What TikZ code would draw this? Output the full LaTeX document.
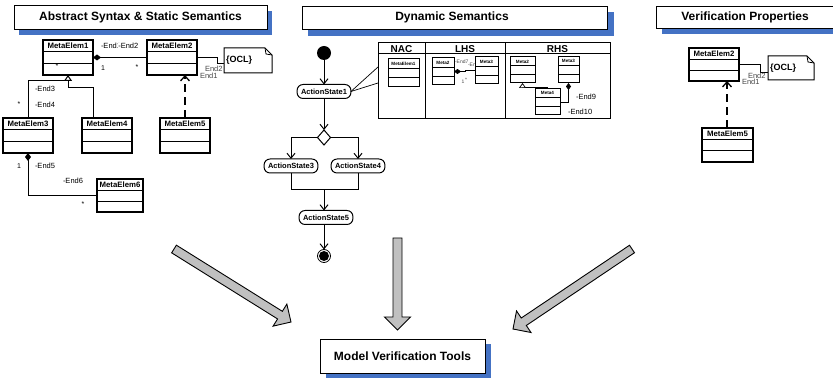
\documentclass[tikz,border=0pt]{standalone}
\usepackage{fontspec}
\setmainfont{Liberation Sans}
\usetikzlibrary{arrows.meta,calc,fit,shapes.geometric}

\definecolor{shade}{RGB}{68,114,196}
\definecolor{arrowgrey}{RGB}{192,192,192}
\definecolor{labelgrey}{RGB}{70,70,70}

\newcommand{\fs}[1]{\fontsize{#1}{#1}\selectfont}

\tikzset{
  every node/.style={inner sep=0pt, outer sep=0pt},
  titleframe/.style={draw, fill=white, line width=0.9pt},
  titletext/.style={font=\bfseries\fs{12}},
  shadowfill/.style={fill=shade, draw=none},
  clsframe/.style={draw, line width=1.2pt, fill=white},
  conn/.style={line width=1pt},
  thinconn/.style={line width=0.7pt},
  lbl/.style={font=\fs{7.5}, anchor=west},
  mult/.style={font=\fs{7}},
  tinylbl/.style={font=\fs{5}, text=labelgrey, anchor=west},
  action/.style={draw, line width=1pt, rounded corners=6pt, fill=white,
    font=\bfseries\fs{7.5}, inner xsep=4pt, minimum height=14pt},
  flow/.style={line width=1pt, -{Straight Barb[length=5pt,width=8pt,line width=1pt]}},
  realize/.style={line width=2.4pt, dash pattern=on 8pt off 5pt,
    -{Straight Barb[length=5pt,width=9pt,line width=1.3pt]}},
  bigarrow/.style={fill=arrowgrey, draw=black, line width=0.9pt, line join=miter},
}

% UML class box with a name row and two empty compartments
% #1 name, #2 left, #3 top, #4 right, #5 bottom, #6 title, #7 font size, #8 line width
\newcommand{\clsbox}[8]{%
  \pgfmathsetmacro{\cbA}{#3+0.34*(#5-#3)}%
  \pgfmathsetmacro{\cbB}{#3+0.67*(#5-#3)}%
  \node[clsframe, line width=#8, fit={(#2,#3) (#4,#5)}] (#1) {};
  \draw[line width=#8] (#2,\cbA) -- (#4,\cbA) (#2,\cbB) -- (#4,\cbB);
  \node[font=\bfseries\fs{#7}] (#1-name) at ({(#2+#4)/2},{(#3+\cbA)/2}) {#6};
}

% note with a folded corner
% #1 name, #2 left, #3 top, #4 right, #5 bottom, #6 text
\newcommand{\notebox}[6]{%
  \node[fit={(#2,#3) (#4,#5)}] (#1) {};
  \draw[line width=1pt, fill=white] (#1.north west) -- ($(#1.north east)+(-7,0)$)
    -- ($(#1.north east)+(0,7)$) -- (#1.south east) -- (#1.south west) -- cycle;
  \draw[line width=0.8pt] ($(#1.north east)+(-7,0)$) -- ($(#1.north east)+(-6,6)$)
    -- ($(#1.north east)+(0,7)$);
  \node[font=\bfseries\fs{9}, anchor=west] (#1-text) at ($(#1.west)+(2,0)$) {#6};
}

% wide hollow block arrow from #2 to #3
\newcommand{\fatarrow}[3]{%
  \coordinate (#1-b) at ($(#3)!13pt!(#2)$);
  \filldraw[bigarrow] ($(#2)!4.5pt!90:(#3)$) -- ($(#1-b)!4.5pt!90:(#3)$)
    -- ($(#1-b)!13pt!90:(#3)$) -- (#3) -- ($(#1-b)!13pt!-90:(#3)$)
    -- ($(#1-b)!4.5pt!-90:(#3)$) -- ($(#2)!4.5pt!-90:(#3)$) -- cycle;
}

\begin{document}
\begin{tikzpicture}[x=1pt, y=-1pt]
\useasboundingbox (0,0) rectangle (833,379);
\clip (0,0) rectangle (833,379);

% ---------- section titles ----------
\fill[shadowfill] (19,11) rectangle (272,35);
\node[titleframe, fit={(14,5) (267,29)}] (t1) {};
\node[titletext] (t1-text) at (140.5,17) {Abstract Syntax \& Static Semantics};

\fill[shadowfill] (308,12) rectangle (614,36);
\node[titleframe, fit={(302,6) (607,29)}] (t2) {};
\node[titletext] (t2-text) at (452,17.5) {Dynamic Semantics};

\fill[shadowfill] (662,12) rectangle (845,34);
\node[titleframe, fit={(656,6) (840,28)}] (t3) {};
\node[titletext] (t3-text) at (745,17) {Verification Properties};

% ---------- abstract syntax ----------
\clsbox{m1}{43}{40}{93}{75}{MetaElem1}{7.8}{1.2pt}
\clsbox{m2}{147}{40}{197}{75}{MetaElem2}{7.8}{1.2pt}
\clsbox{m3}{3}{118}{53}{153}{MetaElem3}{7.8}{1.2pt}
\clsbox{m4}{82}{118}{132}{153}{MetaElem4}{7.8}{1.2pt}
\clsbox{m5}{160}{118}{210}{153}{MetaElem5}{7.8}{1.2pt}
\clsbox{m6}{97}{179}{143}{212}{MetaElem6}{7.8}{1.2pt}
\notebox{ocl}{224}{48}{272}{73}{\{OCL\}}

\draw[conn, {Diamond[length=8pt,width=6pt]}-] (m1.east) -- (m2.west);
\draw[thinconn] (m2.east) -- ++(20,0) |- ($(ocl.west)+(0,2.5)$);
\draw[conn] (m3.north) |- ($(m1.south)+(0,5.5)$);
\draw[conn, -{Triangle[length=6pt,width=8pt,fill=white]}]
  ($(m4.north west)+(11,0)$) |- ($(m1.south)+(0,13)$) -- (m1.south);
\draw[conn, {Diamond[length=8pt,width=6pt]}-] (m3.south) |- (m6.west);
\coordinate (m5top) at ($(m5.north west)+(25,0)$);
\draw[realize] (m5top) -- (m5top |- m2.south);

\node[lbl] (e1) at (101,46) {-End1};
\node[lbl, fill=white, inner xsep=0.3pt] (e2) at (118,46) {-End2};
\node[mult] (k1) at (103,68) {1};
\node[mult] (k2) at (137,67) {*};
\node[mult] (k3) at (57,66) {*};
\node[lbl, text=labelgrey] (o2) at (205,69) {End2};
\node[lbl, text=labelgrey] (o1) at (200,75.5) {End1};
\node[lbl] (e3) at (35,89) {-End3};
\node[lbl] (e4) at (35,105) {-End4};
\node[mult] (k4) at (19,104) {*};
\node[mult] (k5) at (19,166) {1};
\node[lbl] (e5) at (35,166) {-End5};
\node[lbl] (e6) at (63,181) {-End6};
\node[mult] (k6) at (83,204) {*};

% ---------- dynamic semantics ----------
\node[circle, fill=black, minimum size=14pt] (init) at (324,53) {};
\node[action] (as1) at (324,91.5) {ActionState1};
\node[diamond, draw, line width=1pt, fill=white, minimum width=13pt, minimum height=15pt] (dec) at (324,137.5) {};
\node[action] (as3) at (291,166) {ActionState3};
\node[action] (as4) at (358,166) {ActionState4};
\coordinate (join) at (324,190);
\node[action] (as5) at (326,217.5) {ActionState5};
\node[circle, draw, line width=0.8pt, minimum size=13pt] (final) at (324,256) {};
\node[circle, fill=black, minimum size=10pt] (final-dot) at (final) {};

\draw[flow] (init) -- (as1);
\draw[flow] (as1) -- (dec);
\draw[flow] (dec.west) -| (as3.north);
\draw[flow] (dec.east) -| (as4.north);
\draw[conn] (as3.south) |- (join);
\draw[conn] (as4.south) |- (join);
\draw[flow] (join) -- (join |- as5.north);
\draw[flow] (as5.south -| final) -- (final.north);

% transformation rule
\node[draw, line width=1pt, fill=white, fit={(378,43) (610,119)}] (rules) {};
\draw[line width=1pt] (378,54) -- (610,54) (425,43) -- (425,119) (505,43) -- (505,119);
\node[font=\bfseries\fs{10}] (nac) at (401.5,48.8) {NAC};
\node[font=\bfseries\fs{10}] (lhs) at (465,48.8) {LHS};
\node[font=\bfseries\fs{10}] (rhs) at (557.5,48.8) {RHS};
\draw[thinconn] (as1.east) -- ($(rules.north west)+(0,24)$);
\draw[thinconn] (as1.east) -- ($(rules.north west)+(0,40)$);

\clsbox{n1}{388}{59}{419}{87}{MetaElem1}{4.6}{1pt}
\clsbox{l2}{432}{58}{454}{85}{Meta2}{4.6}{1pt}
% end labels of the LHS link, partly hidden behind Meta3
\node[tinylbl] (e7) at (455,62) {-End7};
\node[tinylbl] (e8) at (468,65) {-End8};
\clsbox{l3}{475}{57}{498}{84}{Meta3}{4.6}{1pt}
\clsbox{r2}{510}{57}{535}{83}{Meta2}{4.6}{1pt}
\clsbox{r3}{558}{57}{579}{83}{Meta3}{4.6}{1pt}
\clsbox{r4}{535}{89}{560}{115}{Meta4}{4.6}{1pt}

\draw[thinconn, {Diamond[length=7pt,width=5pt]}-] (l2.east) -- ++(11,0) |- (l3.west);
\node[font=\fs{5}, text=labelgrey] (k7) at (463,82) {1};
\node[font=\fs{5}, text=labelgrey] (k8) at (466,80) {*};

\draw[thinconn, -{Triangle[length=5pt,width=7pt,fill=white]}]
  ($(r4.north west)+(12,0)$) |- ($(r2.south)+(0,4.5)$) -- (r2.south);
\draw[thinconn, {Diamond[length=7pt,width=5pt]}-] (r3.south) |- (r4.east);
\node[lbl] (e9) at (576,97) {-End9};
\node[lbl] (e10) at (568,112) {-End10};

% ---------- verification properties ----------
\clsbox{v2}{689}{48}{739}{81}{MetaElem2}{7.8}{1.2pt}
\clsbox{v5}{702}{128}{753}{162}{MetaElem5}{7.8}{1.2pt}
\notebox{vocl}{768}{56}{814}{80}{\{OCL\}}
\draw[thinconn] (v2.east) -- ++(21,0) |- ($(vocl.west)+(0,4)$);
\coordinate (v5top) at ($(v5.north west)+(25,0)$);
\draw[realize] (v5top) -- (v5top |- v2.south);
\node[lbl, text=labelgrey] (vo2) at (748,76) {End2};
\node[lbl, text=labelgrey] (vo1) at (742,82) {End1};

% ---------- tool chain ----------
\fill[shadowfill] (326,344) rectangle (491,378);
\node[titleframe, fit={(320,339) (485,373)}] (mvt) {};
\node[titletext] (mvt-text) at (402.5,356) {Model Verification Tools};

\coordinate (a1s) at (174,249);
\coordinate (a1t) at (291,322);
\coordinate (a2s) at (397.5,238);
\coordinate (a2t) at (397.5,330);
\coordinate (a3s) at (632,249);
\coordinate (a3t) at (513,329);
\fatarrow{a1}{a1s}{a1t}
\fatarrow{a2}{a2s}{a2t}
\fatarrow{a3}{a3s}{a3t}
\end{tikzpicture}
\end{document}
